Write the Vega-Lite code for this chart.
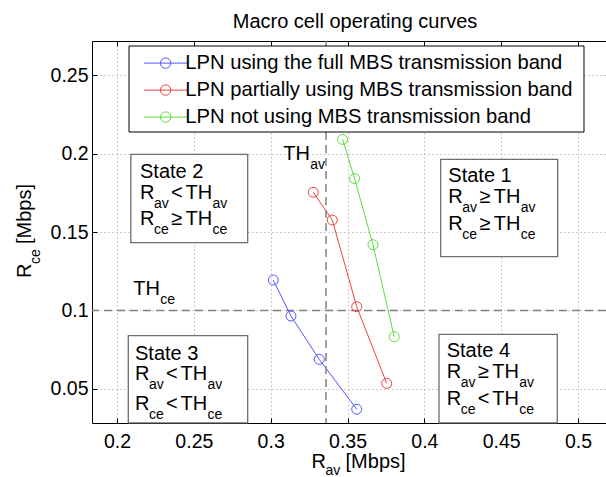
{
  "$schema": "https://vega.github.io/schema/vega-lite/v6.json",
  "width": 514,
  "height": 382,
  "autosize": {"type": "none"},
  "padding": {"left": 92, "top": 41, "right": 0, "bottom": 54},
  "background": "white",
  "title": {"text": "Macro cell operating curves", "anchor": "middle", "dx": 6, "offset": 8, "fontSize": 20, "fontWeight": "normal", "font": "Liberation Sans", "color": "black"},
  "config": {
    "view": {"stroke": null},
    "font": "Liberation Sans",
    "text": {"font": "Liberation Sans", "color": "black"}
  },
  "datasets": {
    "curves": [
      {"series": "LPN using the full MBS transmission band", "x": 0.3017, "y": 0.1194},
      {"series": "LPN using the full MBS transmission band", "x": 0.3132, "y": 0.0965},
      {"series": "LPN using the full MBS transmission band", "x": 0.3316, "y": 0.0689},
      {"series": "LPN using the full MBS transmission band", "x": 0.3560, "y": 0.0371},
      {"series": "LPN partially using MBS transmission band", "x": 0.3277, "y": 0.1753},
      {"series": "LPN partially using MBS transmission band", "x": 0.3401, "y": 0.1576},
      {"series": "LPN partially using MBS transmission band", "x": 0.3560, "y": 0.1024},
      {"series": "LPN partially using MBS transmission band", "x": 0.3755, "y": 0.0536},
      {"series": "LPN not using MBS transmission band", "x": 0.3468, "y": 0.2090},
      {"series": "LPN not using MBS transmission band", "x": 0.3546, "y": 0.1840},
      {"series": "LPN not using MBS transmission band", "x": 0.3666, "y": 0.1419},
      {"series": "LPN not using MBS transmission band", "x": 0.3804, "y": 0.0833}
    ],
    "thresholdAv": [{"x": 0.336}],
    "thresholdCe": [{"y": 0.1}],
    "legendFrame": [{"x1": 0.20781, "x2": 0.50390, "y1": 0.26847, "y2": 0.21369}],
    "stateBoxes": [
      {"state": "State 1", "x1": 0.41065, "x2": 0.48678, "y1": 0.19631, "y2": 0.13427},
      {"state": "State 2", "x1": 0.20900, "x2": 0.28505, "y1": 0.19949, "y2": 0.14318},
      {"state": "State 3", "x1": 0.20735, "x2": 0.28505, "y1": 0.08395, "y2": 0.02840},
      {"state": "State 4", "x1": 0.40954, "x2": 0.48652, "y1": 0.08484, "y2": 0.02840}
    ],
    "stateNames": [
      {"name": "State 1", "x": 0.41560, "y": 0.18204},
      {"name": "State 2", "x": 0.21497, "y": 0.18420},
      {"name": "State 3", "x": 0.21171, "y": 0.06847},
      {"name": "State 4", "x": 0.41455, "y": 0.07057}
    ],
    "conditions": [
      {"state": "State 1", "x": 0.41560, "y": 0.16866, "v": "av", "rel": "≥"},
      {"state": "State 1", "x": 0.41560, "y": 0.15127, "v": "ce", "rel": "≥"},
      {"state": "State 2", "x": 0.21497, "y": 0.17083, "v": "av", "rel": "<"},
      {"state": "State 2", "x": 0.21497, "y": 0.15446, "v": "ce", "rel": "≥"},
      {"state": "State 3", "x": 0.21171, "y": 0.05573, "v": "av", "rel": "<"},
      {"state": "State 3", "x": 0.21171, "y": 0.03662, "v": "ce", "rel": "<"},
      {"state": "State 4", "x": 0.41455, "y": 0.05701, "v": "av", "rel": "≥"},
      {"state": "State 4", "x": 0.41455, "y": 0.03949, "v": "ce", "rel": "<"}
    ],
    "thresholdLabels": [
      {"x": 0.30822, "y": 0.19586, "v": "av"},
      {"x": 0.21061, "y": 0.10987, "v": "ce"}
    ],
    "xTitle": [{"x": 0.32660, "y": -0.00032, "v": "av"}],
    "yTitle": [{"x": 0.14404, "y": 0.12070, "v": "ce"}]
  },
  "resolve": {"axis": {"x": "independent", "y": "independent"}, "legend": {"color": "independent"}},
  "layer": [
    {
      "data": {"name": "curves"},
      "mark": {"type": "line", "strokeWidth": 1},
      "encoding": {
        "x": {"field": "x", "type": "quantitative", "scale": {"domain": [0.18373, 0.51822], "nice": false, "zero": false},
          "axis": {"orient": "bottom", "values": [0.2, 0.25, 0.3, 0.35, 0.4, 0.45, 0.5], "format": ".2~f", "title": null,
            "grid": true, "gridColor": "#9a9a9a", "gridDash": [1, 3], "gridWidth": 1,
            "tickSize": -5, "tickColor": "black", "tickWidth": 1, "domainColor": "black", "domainWidth": 1,
            "labelFont": "Liberation Sans", "labelFontSize": 19.5, "labelColor": "black", "labelPadding": 14.5, "labelFlush": false, "labelOverlap": false}},
        "y": {"field": "y", "type": "quantitative", "scale": {"domain": [0.02834, 0.27166], "nice": false, "zero": false},
          "axis": {"orient": "left", "values": [0.05, 0.1, 0.15, 0.2, 0.25], "format": ".2~f", "title": null,
            "grid": true, "gridColor": "#9a9a9a", "gridDash": [1, 3], "gridWidth": 1,
            "tickSize": -5, "tickColor": "black", "tickWidth": 1, "domainColor": "black", "domainWidth": 1,
            "labelFont": "Liberation Sans", "labelFontSize": 19.5, "labelColor": "black", "labelPadding": 9, "labelFlush": false, "labelOverlap": false}},
        "color": {"field": "series", "type": "nominal",
          "scale": {"domain": ["LPN using the full MBS transmission band", "LPN partially using MBS transmission band", "LPN not using MBS transmission band"],
                    "range": ["#5555ff", "#ee4040", "#5ddc3c"]},
          "legend": null}
      }
    },
    {
      "data": {"name": "thresholdAv"},
      "mark": {"type": "rule", "color": "#808080", "strokeDash": [8, 5], "strokeWidth": 1.5},
      "encoding": {
        "x": {"field": "x", "type": "quantitative", "scale": {"domain": [0.18373, 0.51822], "nice": false, "zero": false},
          "axis": {"orient": "top", "values": [0.2, 0.25, 0.3, 0.35, 0.4, 0.45, 0.5], "labels": false, "title": null, "grid": false,
            "tickSize": -5, "tickColor": "black", "tickWidth": 1, "domainColor": "black", "domainWidth": 1}}
      }
    },
    {
      "data": {"name": "thresholdCe"},
      "mark": {"type": "rule", "color": "#808080", "strokeDash": [8, 5], "strokeWidth": 1.5},
      "encoding": {
        "y": {"field": "y", "type": "quantitative", "scale": {"domain": [0.02834, 0.27166], "nice": false, "zero": false}, "axis": null}
      }
    },
    {
      "data": {"name": "legendFrame"},
      "mark": {"type": "rect", "fill": "white", "stroke": "black", "strokeWidth": 1},
      "encoding": {
        "x": {"field": "x1", "type": "quantitative", "scale": {"domain": [0.18373, 0.51822], "nice": false, "zero": false}, "axis": null},
        "x2": {"field": "x2"},
        "y": {"field": "y1", "type": "quantitative", "scale": {"domain": [0.02834, 0.27166], "nice": false, "zero": false}, "axis": null},
        "y2": {"field": "y2"}
      }
    },
    {
      "data": {"name": "curves"},
      "mark": {"type": "point", "shape": "circle", "filled": false, "size": 100, "strokeWidth": 1, "opacity": 1},
      "encoding": {
        "x": {"field": "x", "type": "quantitative", "scale": {"domain": [0.18373, 0.51822], "nice": false, "zero": false}, "axis": null},
        "y": {"field": "y", "type": "quantitative", "scale": {"domain": [0.02834, 0.27166], "nice": false, "zero": false}, "axis": null},
        "color": {"field": "series", "type": "nominal",
          "scale": {"domain": ["LPN using the full MBS transmission band", "LPN partially using MBS transmission band", "LPN not using MBS transmission band"],
                    "range": ["#5555ff", "#ee4040", "#5ddc3c"]},
          "legend": {"title": null, "orient": "none", "legendX": 37, "legendY": 5, "direction": "vertical",
            "padding": 7, "cornerRadius": 0,
            "symbolType": "M-4.13,0H4.13M1,0A1,1,0,1,1,-1,0A1,1,0,1,1,1,0", "symbolSize": 108, "symbolStrokeWidth": 1,
            "symbolOffset": 19.5, "labelOffset": 9.6, "rowPadding": 6,
            "labelFont": "Liberation Sans", "labelFontSize": 20.2, "labelColor": "black", "labelLimit": 600}}
      }
    },
    {
      "data": {"name": "stateBoxes"},
      "mark": {"type": "rect", "fill": "white", "stroke": "#6e6e6e", "strokeWidth": 1.3},
      "encoding": {
        "x": {"field": "x1", "type": "quantitative", "scale": {"domain": [0.18373, 0.51822], "nice": false, "zero": false}, "axis": null},
        "x2": {"field": "x2"},
        "y": {"field": "y1", "type": "quantitative", "scale": {"domain": [0.02834, 0.27166], "nice": false, "zero": false}, "axis": null},
        "y2": {"field": "y2"}
      }
    },
    {
      "data": {"name": "stateNames"},
      "mark": {"type": "text", "align": "left", "baseline": "alphabetic", "fontSize": 20},
      "encoding": {
        "x": {"field": "x", "type": "quantitative", "axis": null},
        "y": {"field": "y", "type": "quantitative", "axis": null},
        "text": {"field": "name"}
      }
    },
    {
      "data": {"name": "conditions"},
      "mark": {"type": "text", "align": "left", "baseline": "alphabetic", "fontSize": 20},
      "encoding": {
        "x": {"field": "x", "type": "quantitative", "axis": null},
        "y": {"field": "y", "type": "quantitative", "axis": null},
        "text": {"value": "R"}
      }
    },
    {
      "data": {"name": "conditions"},
      "mark": {"type": "text", "align": "left", "baseline": "alphabetic", "fontSize": 14, "dx": 14, "dy": 9},
      "encoding": {
        "x": {"field": "x", "type": "quantitative", "axis": null},
        "y": {"field": "y", "type": "quantitative", "axis": null},
        "text": {"field": "v"}
      }
    },
    {
      "data": {"name": "conditions"},
      "mark": {"type": "text", "align": "left", "baseline": "alphabetic", "fontSize": 20, "dx": 31},
      "encoding": {
        "x": {"field": "x", "type": "quantitative", "axis": null},
        "y": {"field": "y", "type": "quantitative", "axis": null},
        "text": {"field": "rel"}
      }
    },
    {
      "data": {"name": "conditions"},
      "mark": {"type": "text", "align": "left", "baseline": "alphabetic", "fontSize": 20, "dx": 45.5},
      "encoding": {
        "x": {"field": "x", "type": "quantitative", "axis": null},
        "y": {"field": "y", "type": "quantitative", "axis": null},
        "text": {"value": "TH"}
      }
    },
    {
      "data": {"name": "conditions"},
      "mark": {"type": "text", "align": "left", "baseline": "alphabetic", "fontSize": 14, "dx": 72.5, "dy": 9},
      "encoding": {
        "x": {"field": "x", "type": "quantitative", "axis": null},
        "y": {"field": "y", "type": "quantitative", "axis": null},
        "text": {"field": "v"}
      }
    },
    {
      "data": {"name": "thresholdLabels"},
      "mark": {"type": "text", "align": "left", "baseline": "alphabetic", "fontSize": 20},
      "encoding": {
        "x": {"field": "x", "type": "quantitative", "axis": null},
        "y": {"field": "y", "type": "quantitative", "axis": null},
        "text": {"value": "TH"}
      }
    },
    {
      "data": {"name": "thresholdLabels"},
      "mark": {"type": "text", "align": "left", "baseline": "alphabetic", "fontSize": 14, "dx": 27, "dy": 9},
      "encoding": {
        "x": {"field": "x", "type": "quantitative", "axis": null},
        "y": {"field": "y", "type": "quantitative", "axis": null},
        "text": {"field": "v"}
      }
    },
    {
      "data": {"name": "xTitle"},
      "mark": {"type": "text", "align": "left", "baseline": "alphabetic", "fontSize": 20},
      "encoding": {
        "x": {"field": "x", "type": "quantitative", "axis": null},
        "y": {"field": "y", "type": "quantitative", "axis": null},
        "text": {"value": "R"}
      }
    },
    {
      "data": {"name": "xTitle"},
      "mark": {"type": "text", "align": "left", "baseline": "alphabetic", "fontSize": 14, "dx": 14, "dy": 7.5},
      "encoding": {
        "x": {"field": "x", "type": "quantitative", "axis": null},
        "y": {"field": "y", "type": "quantitative", "axis": null},
        "text": {"field": "v"}
      }
    },
    {
      "data": {"name": "xTitle"},
      "mark": {"type": "text", "align": "left", "baseline": "alphabetic", "fontSize": 20, "dx": 34},
      "encoding": {
        "x": {"field": "x", "type": "quantitative", "axis": null},
        "y": {"field": "y", "type": "quantitative", "axis": null},
        "text": {"value": "[Mbps]"}
      }
    },
    {
      "data": {"name": "yTitle"},
      "mark": {"type": "text", "align": "left", "baseline": "alphabetic", "fontSize": 20, "angle": 270},
      "encoding": {
        "x": {"field": "x", "type": "quantitative", "axis": null},
        "y": {"field": "y", "type": "quantitative", "axis": null},
        "text": {"value": "R"}
      }
    },
    {
      "data": {"name": "yTitle"},
      "mark": {"type": "text", "align": "left", "baseline": "alphabetic", "fontSize": 14, "dx": 14, "dy": 9, "angle": 270},
      "encoding": {
        "x": {"field": "x", "type": "quantitative", "axis": null},
        "y": {"field": "y", "type": "quantitative", "axis": null},
        "text": {"field": "v"}
      }
    },
    {
      "data": {"name": "yTitle"},
      "mark": {"type": "text", "align": "left", "baseline": "alphabetic", "fontSize": 20, "dx": 34, "angle": 270},
      "encoding": {
        "x": {"field": "x", "type": "quantitative", "axis": null},
        "y": {"field": "y", "type": "quantitative", "axis": null},
        "text": {"value": "[Mbps]"}
      }
    }
  ]
}
